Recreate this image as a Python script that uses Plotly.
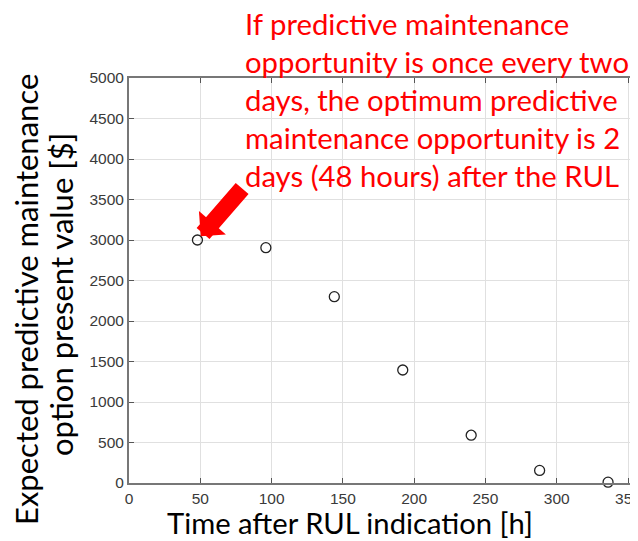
import plotly.graph_objects as go

# hours after RUL indication and option value ($)
hours = [48, 96, 144, 192, 240, 288, 336]
value = [3000, 2905, 2300, 1395, 590, 155, 10]

x_ticks = [0, 50, 100, 150, 200, 250, 300, 350]
y_ticks = [0, 500, 1000, 1500, 2000, 2500, 3000, 3500, 4000, 4500, 5000]

note_lines = [
    "If predictive maintenance",
    "opportunity is once every two",
    "days, the optimum predictive",
    "maintenance opportunity is 2",
    "days (48 hours) after the RUL",
]
y_title_lines = ["Expected predictive maintenance", "option present value [$]"]
x_title = "Time after RUL indication [h]"

# page body has an 8px margin, so the figure is drawn 8px smaller
OFF = 8
W, H = 638 - OFF, 541 - OFF
L, R, T, B = 129 - OFF, 0, 78 - OFF, 541 - 483

fig = go.Figure()
fig.add_trace(go.Scatter(
    x=hours, y=value, mode="markers",
    marker=dict(symbol="circle-open", size=10, color="#222",
                line=dict(width=1.3, color="#222")),
    showlegend=False, cliponaxis=False,
))

axis_common = dict(
    showgrid=True, gridcolor="#e0e0e0", gridwidth=1,
    showline=True, linecolor="#777", linewidth=2, mirror="ticks",
    ticks="inside", ticklen=5, tickcolor="#555",
    tickfont=dict(family="Liberation Sans, Arial", size=15.5, color="#3a3a3a"),
    zeroline=False, automargin=False, ticklabeloverflow="allow",
)

fig.update_xaxes(range=[0, 357], tickvals=x_ticks, **axis_common)
fig.update_yaxes(range=[0, 5000], tickvals=y_ticks, **axis_common)

annotations = []
# arrow pointing at the first point
annotations.append(dict(
    x=hours[0], y=value[0], xref="x", yref="y", text="",
    showarrow=True, arrowhead=1, arrowsize=0.35, arrowwidth=17,
    arrowcolor="#ff0000", ax=46, ay=-53, standoff=5,
))
for i, line in enumerate(note_lines):
    annotations.append(dict(
        text=line, xref="paper", yref="paper", x=0, y=1,
        xanchor="left", yanchor="middle", showarrow=False,
        xshift=243 - OFF - L, yshift=T - (23 - OFF) - 38 * i,
        font=dict(family="Lato", size=29.3, color="#ff0000"),
    ))
annotations.append(dict(
    text=x_title, xref="paper", yref="paper",
    x=0.5, y=0, xanchor="center", yanchor="middle", showarrow=False,
    xshift=(350 - OFF) - (L + (W - L - R) / 2), yshift=-(522 - 483),
    font=dict(family="Lato", size=29.2, color="#000"),
))
for i, (line, cy) in enumerate(zip(y_title_lines, [300, 295])):
    annotations.append(dict(
        text=line, xref="paper", yref="paper", x=0, y=0.5,
        xanchor="center", yanchor="middle", showarrow=False,
        textangle=-90,
        xshift=(26 - OFF) + 35 * i - L,
        yshift=-((cy - OFF) - (T + (H - T - B) / 2)),
        font=dict(family="Lato", size=31, color="#000"),
    ))

fig.update_layout(
    width=W, height=H,
    margin=dict(l=L, r=R, t=T, b=B, autoexpand=False),
    paper_bgcolor="white", plot_bgcolor="white",
    annotations=annotations,
)

fig.write_html("out.html")
